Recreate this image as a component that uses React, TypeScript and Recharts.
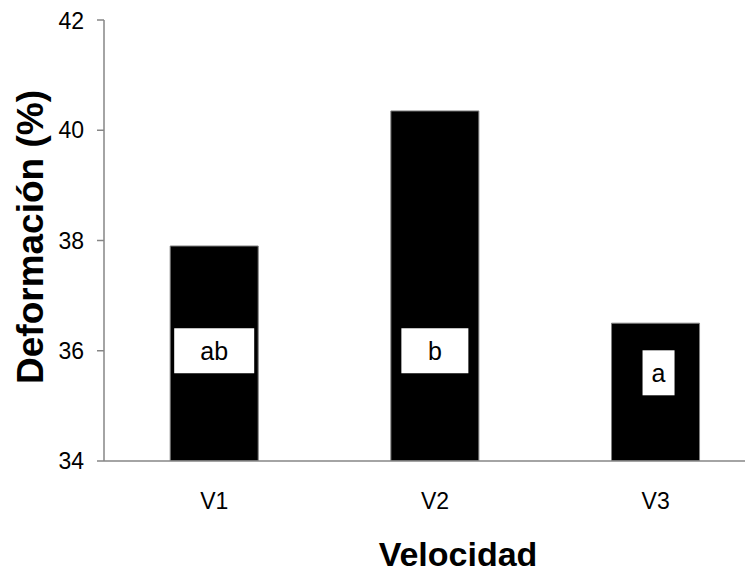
import { BarChart, Bar, XAxis, YAxis, LabelList, Label } from "recharts";

const categories = ["V1", "V2", "V3"];
const deformacion = [37.9, 40.35, 36.5];
const letras = ["ab", "b", "a"];
const letraNivel = [36, 36, 35.6];
const yTicks = [34, 36, 38, 40, 42];

const data = categories.map((c, i) => ({
  name: c,
  value: deformacion[i],
  letra: letras[i],
  nivel: letraNivel[i],
}));

const FONT = "'Liberation Sans', Arial, Helvetica, sans-serif";
const AXIS = "#868686";

// hand-drawn text boxes in the original have different widths
const boxWidth: Record<string, number> = { ab: 80, b: 67, a: 32 };

function LetterBox(props: any) {
  const { x, y, width, height, value, index } = props;
  const nivel = data[index]?.nivel ?? 36;
  const bottom = y + height;
  const pxPerUnit = height / (data[index].value - 34);
  const cy = bottom - (nivel - 34) * pxPerUnit;
  const w = boxWidth[value] ?? 40;
  const cx = x + width / 2 + (value === "a" ? 3 : 0);
  return (
    <g>
      <rect x={cx - w / 2} y={cy - 22.5} width={w} height={45} fill="#fff" />
      <text
        x={cx}
        y={cy + 9}
        textAnchor="middle"
        fontFamily={FONT}
        fontSize={25}
        fill="#000"
      >
        {value}
      </text>
    </g>
  );
}

function App() {
  return (
    <div style={{ width: 745, height: 580, overflow: "hidden" }}>
      <BarChart
        width={758}
        height={580}
        data={data}
        margin={{ top: 12, right: 0, bottom: 0, left: 0 }}
        barCategoryGap="30%"
      >
        <XAxis
          dataKey="name"
          height={127}
          tickLine={false}
          axisLine={{ stroke: AXIS, strokeWidth: 1.5 }}
          tickMargin={26}
          tick={{ fontFamily: FONT, fontSize: 23, fill: "#000" }}
        >
          <Label
            content={() => (
              <text
                x={450}
                y={558}
                textAnchor="middle"
                fontFamily={FONT}
                fontSize={34}
                fontWeight="bold"
                fill="#000"
              >
                Velocidad
              </text>
            )}
          />
        </XAxis>
        <YAxis
          width={96}
          domain={[34, 42]}
          ticks={yTicks}
          allowDataOverflow
          axisLine={{ stroke: AXIS, strokeWidth: 1.5 }}
          tickLine={{ stroke: AXIS, strokeWidth: 1.5 }}
          tickSize={7}
          tickMargin={13}
          tick={{ fontFamily: FONT, fontSize: 23, fill: "#000" }}
        >
          <Label
            content={() => (
              <text
                x={22}
                y={229}
                transform="rotate(-90, 22, 229)"
                textAnchor="middle"
                dominantBaseline="central"
                fontFamily={FONT}
                fontSize={37}
                fontWeight="bold"
                fill="#000"
              >
                Deformación (%)
              </text>
            )}
          />
        </YAxis>
        <Bar
          dataKey="value"
          fill="#000"
          stroke="#7f7f7f"
          strokeWidth={1}
          isAnimationActive={false}
        >
          <LabelList dataKey="letra" content={<LetterBox />} />
        </Bar>
      </BarChart>
    </div>
  );
}

export default App;
